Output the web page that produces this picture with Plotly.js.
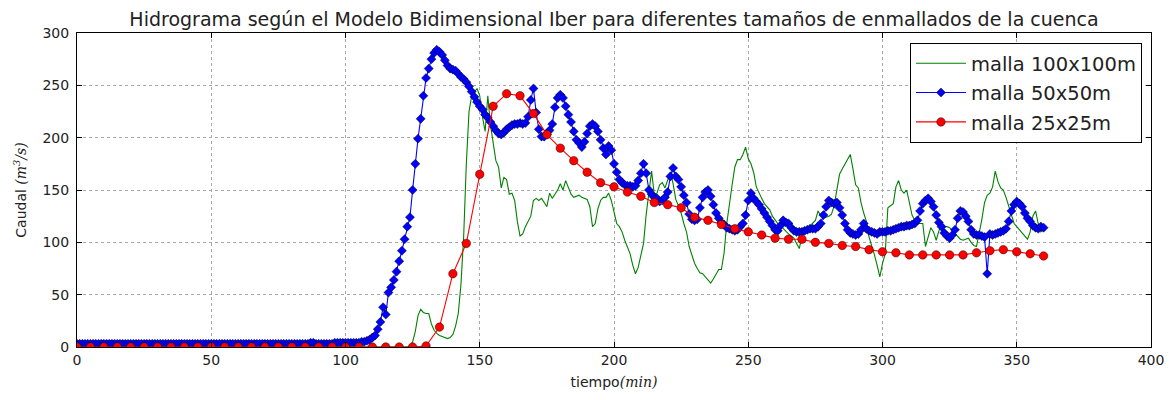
<!DOCTYPE html>
<html>
<head>
<meta charset="utf-8">
<script src="https://cdn.plot.ly/plotly-3.0.1.min.js"></script>
<style>html,body{margin:0;padding:0;background:#fff;}#chart{width:1173px;height:400px;}</style>
</head>
<body>
<div id="chart"></div>
<script>
// Time axis: minutes (1-min steps for 100x100 and 50x50 meshes, 5-min steps for 25x25)
const xTicks = [0, 50, 100, 150, 200, 250, 300, 350, 400];
const yTicks = [0, 50, 100, 150, 200, 250, 300];
const seriesNames = ["malla 100x100m", "malla 50x50m", "malla 25x25m"];

// malla 100x100m, t = 0..360 min, every 1 min
const green100 = [
0,0,0,0,0,0,0,0,0,0, 0,0,0,0,0,0,0,0,0,0,
0,0,0,0,0,0,0,0,0,0, 0,0,0,0,0,0,0,0,0,0,
0,0,0,0,0,0,0,0,0,0, 0,0,0,0,0,0,0,0,0,0,
0,0,0,0,0,0,0,0,0,0, 0,0,0,0,0,0,0,0,0,0,
0,0,0,0,0,0,0,0,0,0, 0,0,0,0,0,0,0,0,0,0,
0,0,0,0,0,0,0,0,0,0, 0,0,0,0,0,0,0,0,0,0,
0,0,0,0,1,5,15,30,36,33,
32,32,22,16,13,11,10,9,8,9,
12,20,32,60,105,175,225,240,244,247,
240,220,206,240,212,193,178,172,152,162,
160,146,147,140,120,106,108,115,120,125,
140,142,140,142,138,134,147,142,146,150,
156,150,159,153,146,143,144,145,143,142,
141,134,115,118,132,140,143,143,147,140,
130,118,115,110,102,95,89,78,70,76,
89,99,127,150,168,146,147,155,157,152,
160,167,156,141,135,128,118,110,96,87,
80,75,71,70,67,63,61,65,70,74,
74,90,118,138,155,172,179,179,184,191,
180,175,167,153,147,142,137,134,131,125,
121,118,116,113,110,108,106,104,99,94,
106,111,113,116,119,121,130,125,124,124,
125,127,135,150,165,170,175,180,184,170,
155,152,138,128,120,105,97,88,78,67,
80,89,133,135,137,153,159,150,147,150,
137,126,121,119,118,118,96,105,114,110,
102,111,118,115,115,114,111,109,105,103,
102,103,104,100,97,96,108,122,138,145,
147,153,168,158,152,150,143,135,125,118,
115,112,109,106,103,110,125,130,118,110,
112
];

// malla 50x50m, t = 0..360 min, every 1 min
const blue50 = [
3,3,3,3,3,3,3,3,3,3, 3,3,3,3,3,3,3,3,3,3,
3,3,3,3,3,3,3,3,3,3, 3,3,3,3,3,3,3,3,3,3,
3,3,3,3,3,3,3,3,3,3, 3,3,3,3,3,3,3,3,3,3,
3,3,3,3,3,3,3,3,3,3, 3,3,3,3,3,3,3,3,3,3,
3,3,3,3,3,3,3,4,4,3, 3,3,3,3,3,3,4,4,4,4,
4,4,4,4,4,4,5,5,6,7,
9,11,17,24,38,31,52,57,64,72,
82,92,103,115,124,150,175,199,218,240,
257,266,275,281,284,282,279,274,269,266,
265,264,261,258,256,253,249,244,239,234,
230,227,222,219,215,211,207,204,203,205,
208,210,212,213,213,214,213,214,220,236,
247,224,208,201,201,203,207,213,229,238,
241,238,230,222,215,206,198,195,191,196,
204,211,213,211,206,198,190,184,192,188,
175,167,160,157,155,154,154,153,154,159,
166,175,166,150,146,143,142,139,140,143,
148,163,171,163,160,153,145,138,127,122,
121,122,133,143,148,150,144,136,128,123,
119,117,114,113,112,111,112,115,118,126,
140,147,142,139,136,132,128,124,120,116,
112,111,116,121,119,118,114,111,110,110,
110,111,112,113,113,113,115,118,126,134,
140,138,137,138,133,126,118,112,109,108,
107,108,112,118,113,111,110,109,108,110,
110,110,111,111,112,113,114,115,115,116,
116,117,118,121,130,137,140,142,139,134,
126,119,115,109,106,104,107,112,123,130,
129,125,120,112,108,107,107,106,105,70,
108,107,108,109,110,111,113,120,130,136,
139,137,134,128,123,120,116,114,113,115,
114
];

// malla 25x25m, t = 0..360 min, every 5 min
const red25 = [
0,0,0,0,0,0,0,0,0,0,
0,0,0,0,0,0,0,0,0,0,
0,0,0,0,0,0,1,
19,70,99,165,230,242,240,223,203,190,
178,167,157,153,148,144,138,136,133,124,
121,117,113,110,107,104,103,103,100,99,
97,96,93,91,90,88,88,88,88,88,
90,92,93,91,89,87
];

const FONT = "DejaVu Sans, Liberation Sans, sans-serif";
const MATH = "font-family:'DejaVu Serif',serif;font-style:italic";

const traces = [
  {
    name: seriesNames[0], y: green100, x0: 0, dx: 1, type: "scatter", mode: "lines",
    line: {color: "#008000", width: 1.1}, legendgroup: "g1"
  },
  {
    name: seriesNames[1], y: blue50, x0: 0, dx: 1, type: "scatter", mode: "lines+markers",
    line: {color: "#0000ff", width: 1.1},
    marker: {symbol: "diamond", size: 7, color: "#0000ff", line: {color: "rgba(0,0,0,0.75)", width: 0.6}},
    legendgroup: "g2"
  },
  {
    name: seriesNames[2], y: red25, x0: 0, dx: 5, type: "scatter", mode: "lines+markers",
    line: {color: "#ff0000", width: 1.1},
    marker: {symbol: "circle", size: 8.5, color: "#ff0000", line: {color: "rgba(0,0,0,0.75)", width: 0.6}},
    legendgroup: "g3"
  }
];

const axisCommon = {
  showline: true, linecolor: "#000", linewidth: 1, mirror: "allticks",
  ticks: "inside", ticklen: 5, tickcolor: "#000", tickwidth: 1,
  showgrid: true, gridcolor: "#a8a8a8", griddash: "3px,3px", gridwidth: 1,
  zeroline: false, tickfont: {family: FONT, size: 14, color: "#222"}
};

const layout = {
  width: 1173, height: 400,
  margin: {l: 77, r: 22, t: 33, b: 53},
  paper_bgcolor: "#fff", plot_bgcolor: "#fff",
  font: {family: FONT, color: "#222"},
  title: {
    text: "Hidrograma según el Modelo Bidimensional Iber para diferentes tamaños de enmallados de la cuenca",
    font: {family: FONT, size: 19, color: "#222"},
    x: 0.5, xref: "paper", y: 0.952, yref: "container", yanchor: "middle"
  },
  xaxis: Object.assign({}, axisCommon, {
    range: [0, 400], tickvals: xTicks, ticktext: xTicks.map(String),
    title: {text: "tiempo<span style=\"" + MATH + "\">(min)</span>", font: {family: FONT, size: 14, color: "#222"}, standoff: 10}
  }),
  yaxis: Object.assign({}, axisCommon, {
    range: [0, 300], tickvals: yTicks, ticktext: yTicks.map(String),
    ticklabelstandoff: 4,
    title: {text: "Caudal <span style=\"" + MATH + "\">(m<sup>3</sup>/s)</span>", font: {family: FONT, size: 14, color: "#222"}, standoff: 12}
  }),
  showlegend: true,
  legend: {
    x: 0.9916, xanchor: "right", y: 0.968, yanchor: "top",
    bgcolor: "#fff", bordercolor: "#000", borderwidth: 1,
    font: {family: FONT, size: 19.5, color: "#222"},
    tracegroupgap: 1, traceorder: "grouped", itemwidth: 50
  }
};

Plotly.newPlot("chart", traces, layout, {displayModeBar: false, staticPlot: true});
</script>
</body>
</html>
